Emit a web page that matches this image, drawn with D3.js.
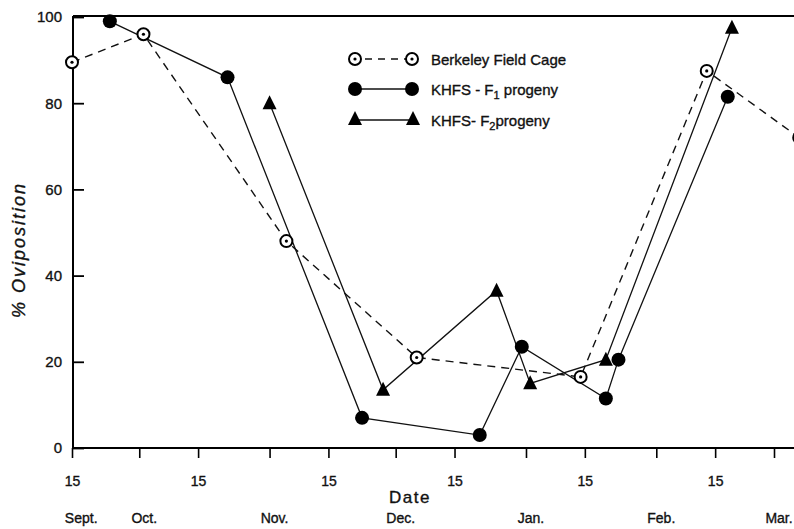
<!DOCTYPE html>
<html>
<head>
<meta charset="utf-8">
<script src="https://cdn.jsdelivr.net/npm/d3@7"></script>
<style>
  html, body { margin: 0; padding: 0; background: #fff; }
  svg { display: block; font-family: "Liberation Sans", Arial, sans-serif; }
  svg text { stroke: #111; stroke-width: 0.35px; }
</style>
</head>
<body>
<svg id="chart" width="794" height="529"></svg>
<script>
// ---- data ----
const berkeleyDates  = ["1977-09-15","1977-10-02","1977-11-05","1977-12-06","1978-01-14","1978-02-13","1978-03-07"];
const berkeleyValues = [89.5, 96, 48, 21, 16.5, 87.5, 72];

const f1Dates  = ["1977-09-24","1977-10-22","1977-11-23","1977-12-21","1977-12-31","1978-01-20","1978-01-23","1978-02-18"];
const f1Values = [99, 86, 7, 3, 23.5, 11.5, 20.5, 81.5];

const f2Dates  = ["1977-11-01","1977-11-28","1977-12-25","1978-01-02","1978-01-20","1978-02-19"];
const f2Values = [80, 13.5, 36.5, 15, 20.5, 97.5];

const xTickDates  = ["1977-09-15","1977-10-01","1977-10-15","1977-11-01","1977-11-15","1977-12-01","1977-12-15",
                     "1978-01-01","1978-01-15","1978-02-01","1978-02-15","1978-03-01"];
const monthNames  = ["Sept.","Oct.","Nov.","Dec.","Jan.","Feb.","Mar."];
const monthDates  = ["1977-09-16","1977-10-01","1977-11-01","1977-12-01","1978-01-01","1978-02-01","1978-03-01"];
const yTicks      = [0, 20, 40, 60, 80, 100];

const seriesNames = ["Berkeley Field Cage", "KHFS - F", "KHFS- F"];
const seriesSubs  = ["", "1", "2"];
const seriesTails = ["", " progeny", "progeny"];

// ---- setup ----
const W = 794, H = 529;
const parse = d3.utcParse("%Y-%m-%d");
const svg = d3.select("#chart");

const x = d3.scaleTime()
  .domain([parse(xTickDates[0]), parse(xTickDates[xTickDates.length - 1])])
  .range([72, 774]);
const y = d3.scaleLinear().domain([0, 100]).range([448, 17]);

const zip = (ds, vs) => ds.map((d, i) => ({ date: parse(d), value: vs[i] }));
const berkeley = zip(berkeleyDates, berkeleyValues);
const f1 = zip(f1Dates, f1Values);
const f2 = zip(f2Dates, f2Values);

const left = x.range()[0] + 1;

// ---- axes ----
const yAxis = d3.axisLeft(y).tickValues(yTicks).tickSizeInner(-11).tickSizeOuter(0).tickPadding(11);
const gy = svg.append("g").attr("transform", `translate(${left},0)`).call(yAxis);
gy.select(".domain").remove();
gy.selectAll(".tick line").attr("stroke", "#000").attr("stroke-width", 1.8);
gy.selectAll(".tick text").attr("font-size", 15).attr("fill", "#111")
  .attr("font-family", "'Liberation Sans', Arial, sans-serif");

const xAxis = d3.axisBottom(x).tickValues(xTickDates.map(parse))
  .tickFormat(d => d.getUTCDate() === 15 ? "15" : "")
  .tickSize(10).tickSizeOuter(0).tickPadding(18);
const gx = svg.append("g").attr("transform", `translate(0,${y(0)})`).call(xAxis);
gx.select(".domain").remove();
gx.selectAll(".tick line").attr("stroke", "#000").attr("stroke-width", 1.6);
gx.selectAll(".tick text").attr("font-size", 14).attr("fill", "#111")
  .attr("font-family", "'Liberation Sans', Arial, sans-serif");

// frame lines (left, bottom, top)
svg.append("line").attr("x1", left).attr("x2", left).attr("y1", y(100) - 1).attr("y2", y(0) + 1)
  .attr("stroke", "#000").attr("stroke-width", 2);
svg.append("line").attr("x1", left).attr("x2", W).attr("y1", y(0)).attr("y2", y(0))
  .attr("stroke", "#000").attr("stroke-width", 2.2);
svg.append("line").attr("x1", left).attr("x2", W).attr("y1", y(100) - 1).attr("y2", y(100) - 1)
  .attr("stroke", "#000").attr("stroke-width", 2);

// month labels
svg.append("g").selectAll("text").data(monthNames).join("text")
  .attr("x", (d, i) => x(parse(monthDates[i])) + 5)
  .attr("y", 523)
  .attr("text-anchor", "middle")
  .attr("font-size", 14)
  .attr("fill", "#111")
  .text(d => d);

// axis titles
svg.append("text").attr("x", 410).attr("y", 503).attr("text-anchor", "middle")
  .attr("font-size", 17).attr("letter-spacing", 1.5).attr("fill", "#111").text("Date");
svg.append("text")
  .attr("transform", "translate(25,250) rotate(-90)")
  .attr("text-anchor", "middle")
  .attr("font-size", 18).attr("font-style", "italic").attr("letter-spacing", 2)
  .attr("fill", "#111").text("% Oviposition");

// ---- lines ----
const line = d3.line().x(d => x(d.date)).y(d => y(d.value));
svg.append("path").datum(berkeley).attr("d", line).attr("fill", "none")
  .attr("stroke", "#111").attr("stroke-width", 1.4).attr("stroke-dasharray", "8,6");
svg.append("path").datum(f1).attr("d", line).attr("fill", "none")
  .attr("stroke", "#111").attr("stroke-width", 1.3);
svg.append("path").datum(f2).attr("d", line).attr("fill", "none")
  .attr("stroke", "#111").attr("stroke-width", 1.3);

// ---- markers ----
function ringMarker(g) {
  g.append("circle").attr("r", 6).attr("fill", "#fff").attr("stroke", "#000").attr("stroke-width", 2);
  g.append("circle").attr("r", 1.6).attr("fill", "#000");
}
function dotMarker(g) {
  g.append("circle").attr("r", 7).attr("fill", "#000");
}
function triMarker(g) {
  g.append("path").attr("d", "M0,-8 L7,6 L-7,6 Z").attr("fill", "#000");
}

svg.append("g").selectAll("g").data(berkeley).join("g")
  .attr("transform", d => `translate(${x(d.date)},${y(d.value)})`)
  .each(function () { ringMarker(d3.select(this)); });
svg.append("g").selectAll("g").data(f1).join("g")
  .attr("transform", d => `translate(${x(d.date)},${y(d.value)})`)
  .each(function () { dotMarker(d3.select(this)); });
svg.append("g").selectAll("g").data(f2).join("g")
  .attr("transform", d => `translate(${x(d.date)},${y(d.value)})`)
  .each(function () { triMarker(d3.select(this)); });

// ---- legend ----
const legendY = [59, 89, 120];
const lg = svg.append("g");
// Berkeley
lg.append("line").attr("x1", 362).attr("x2", 406).attr("y1", legendY[0]).attr("y2", legendY[0])
  .attr("stroke", "#111").attr("stroke-width", 1.4).attr("stroke-dasharray", "7,6").attr("stroke-dashoffset", -3);
ringMarker(lg.append("g").attr("transform", `translate(355,${legendY[0]})`));
ringMarker(lg.append("g").attr("transform", `translate(412,${legendY[0]})`));
// F1
lg.append("line").attr("x1", 355).attr("x2", 412).attr("y1", legendY[1]).attr("y2", legendY[1])
  .attr("stroke", "#111").attr("stroke-width", 1.3);
dotMarker(lg.append("g").attr("transform", `translate(355,${legendY[1]})`));
dotMarker(lg.append("g").attr("transform", `translate(412,${legendY[1]})`));
// F2
lg.append("line").attr("x1", 355).attr("x2", 413).attr("y1", legendY[2]).attr("y2", legendY[2])
  .attr("stroke", "#111").attr("stroke-width", 1.3);
triMarker(lg.append("g").attr("transform", `translate(355,${legendY[2] - 1})`));
triMarker(lg.append("g").attr("transform", `translate(413,${legendY[2] - 1})`));

seriesNames.forEach((name, i) => {
  const t = lg.append("text").attr("x", 431).attr("y", legendY[i] + 6)
    .attr("font-size", 15).attr("fill", "#111");
  t.append("tspan").text(name);
  if (seriesSubs[i]) {
    t.append("tspan").attr("font-size", 11).attr("dy", 4).text(seriesSubs[i]);
    t.append("tspan").attr("dy", -4).text(seriesTails[i]);
  }
});
</script>
</body>
</html>
